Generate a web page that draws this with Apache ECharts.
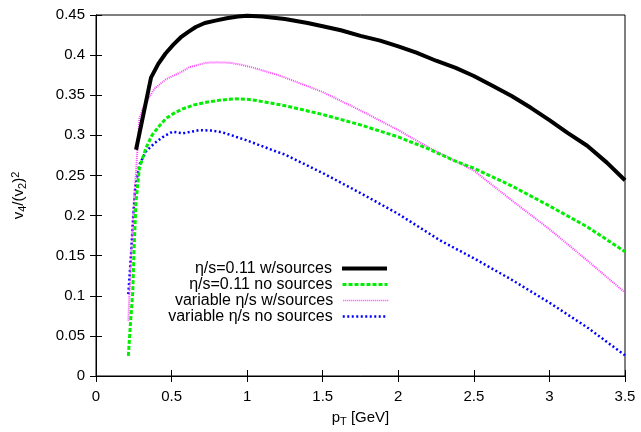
<!DOCTYPE html>
<html>
<head>
<meta charset="utf-8">
<script src="https://cdn.jsdelivr.net/npm/echarts@6/dist/echarts.min.js"></script>
<style>html,body{margin:0;padding:0;background:#fff}#c{width:641px;height:432px}</style>
</head>
<body>
<div id="c"></div>
<script>
// ---- data ----
var seriesNames = ['\u03b7/s=0.11 w/sources', '\u03b7/s=0.11 no sources', 'variable \u03b7/s w/sources', 'variable \u03b7/s no sources'];

var xBlack = [0.265,0.364,0.412,0.46,0.512,0.56,0.611,0.66,0.72,0.79,0.865,0.94,1.0,1.1,1.25,1.4,1.5,1.62,1.75,1.88,2.0,2.12,2.25,2.38,2.5,2.62,2.75,2.88,3.0,3.12,3.25,3.38,3.5];
var yBlack = [0.282,0.372,0.389,0.402,0.413,0.422,0.429,0.435,0.440,0.443,0.446,0.448,0.449,0.448,0.445,0.440,0.436,0.431,0.424,0.418,0.411,0.403,0.393,0.384,0.374,0.362,0.349,0.334,0.319,0.303,0.287,0.266,0.244];

var xGreen = [0.214,0.227,0.243,0.254,0.265,0.287,0.33,0.37,0.42,0.463,0.52,0.574,0.65,0.75,0.83,0.915,1.0,1.06,1.19,1.25,1.5,1.75,2.0,2.2,2.376,2.5,2.75,3.0,3.25,3.5];
var yGreen = [0.025,0.063,0.104,0.169,0.218,0.259,0.284,0.300,0.312,0.321,0.328,0.333,0.338,0.342,0.344,0.3455,0.345,0.3435,0.339,0.337,0.326,0.313,0.298,0.283,0.268,0.259,0.237,0.212,0.186,0.155];

var xPink = [0.214,0.232,0.254,0.265,0.287,0.309,0.35,0.386,0.463,0.52,0.574,0.617,0.728,0.8,0.882,0.96,1.037,1.19,1.25,1.5,1.75,2.0,2.2,2.376,2.5,2.75,3.0,3.25,3.5];
var yPink = [0.069,0.149,0.227,0.255,0.321,0.333,0.347,0.358,0.370,0.375,0.380,0.385,0.3905,0.391,0.3905,0.388,0.3845,0.376,0.372,0.354,0.331,0.3065,0.285,0.268,0.256,0.219,0.183,0.144,0.104];

var xBlue = [0.214,0.232,0.247,0.26,0.287,0.331,0.386,0.45,0.507,0.574,0.684,0.76,0.838,0.993,1.19,1.25,1.5,1.75,2.0,2.277,2.5,2.75,3.0,3.25,3.5];
var yBlue = [0.102,0.153,0.202,0.235,0.2635,0.280,0.290,0.299,0.3045,0.3025,0.3065,0.306,0.3037,0.294,0.280,0.276,0.253,0.228,0.202,0.169,0.1467,0.120,0.0914,0.0606,0.0258];

var xTicks = {min: 0, max: 3.5, interval: 0.5};
var yTicks = {min: 0, max: 0.45, interval: 0.05};

// ---- build ----
function pairs(xs, ys) { return xs.map(function (x, i) { return [x, ys[i]]; }); }

var FONT = 'Liberation Sans';
var styles = [
  {color: '#000000', width: 4, type: 'solid', legendWidth: 4},
  {color: '#00ee00', width: 3, type: [4, 2], legendWidth: 3},
  {color: '#ff40ff', width: 2, type: [1, 1], legendWidth: 1.5},
  {color: '#0000ff', width: 2.5, type: [2, 2.5], legendWidth: 2.5}
];
var datasets = [pairs(xBlack, yBlack), pairs(xGreen, yGreen), pairs(xPink, yPink), pairs(xBlue, yBlue)];

var series = datasets.map(function (d, i) {
  return {
    name: seriesNames[i], type: 'line', data: d, symbol: 'none', showSymbol: false,
    smooth: false, animation: false, z: 10 - i,
    lineStyle: {color: styles[i].color, width: styles[i].width, type: styles[i].type},
    itemStyle: {color: styles[i].color}
  };
});

var rowCenters = [268.5, 284.5, 300.5, 316.5];
var legends = seriesNames.map(function (n, i) {
  return {
    data: [{name: n}], right: 252, top: rowCenters[i] - 8, orient: 'horizontal', align: 'right',
    itemWidth: 45, itemHeight: 16, padding: 0, selectedMode: false,
    itemStyle: {opacity: 0},
    lineStyle: {width: styles[i].legendWidth, color: styles[i].color, type: styles[i].type, opacity: 1},
    textStyle: {fontFamily: FONT, fontSize: 16, color: '#000', padding: [0, 5, 0, 0]}
  };
});

var tickCommon = {inside: true, length: 6, lineStyle: {color: '#000', width: 1}};
var axisLine = {show: true, lineStyle: {color: '#000', width: 1}};
var labelCommon = {fontFamily: FONT, fontSize: 15, color: '#000'};

var option = {
  animation: false,
  backgroundColor: '#fff',
  grid: {left: 96, right: 16, top: 15, bottom: 51, show: true, borderColor: '#000', borderWidth: 1, containLabel: false},
  legend: legends,
  xAxis: [
    {type: 'value', min: xTicks.min, max: xTicks.max, interval: xTicks.interval, position: 'bottom',
     axisLine: axisLine, axisTick: tickCommon, splitLine: {show: false},
     axisLabel: Object.assign({margin: 13}, labelCommon),
     name: '{a|p}{b|T}{a| [GeV]}', nameLocation: 'middle', nameGap: 33,
     nameTextStyle: {rich: {a: {fontFamily: FONT, fontSize: 15, color: '#000', lineHeight: 18},
                            b: {fontFamily: FONT, fontSize: 11, color: '#000', lineHeight: 10, verticalAlign: 'bottom'}}}},
    {type: 'value', min: xTicks.min, max: xTicks.max, interval: xTicks.interval, position: 'top',
     axisLine: axisLine, axisTick: tickCommon, axisLabel: {show: false}, splitLine: {show: false}}
  ],
  yAxis: [
    {type: 'value', min: yTicks.min, max: yTicks.max, interval: yTicks.interval, position: 'left',
     axisLine: axisLine, axisTick: tickCommon, splitLine: {show: false},
     axisLabel: Object.assign({margin: 11}, labelCommon),
     name: '{a|v}{b|4}{a|/(v}{b|2}{a|)}{c|2}', nameLocation: 'middle', nameGap: 68, nameRotate: 90,
     nameTextStyle: {rich: {a: {fontFamily: FONT, fontSize: 15, color: '#000', lineHeight: 18},
                            b: {fontFamily: FONT, fontSize: 11, color: '#000', lineHeight: 10, verticalAlign: 'bottom'},
                            c: {fontFamily: FONT, fontSize: 11, color: '#000', lineHeight: 10, verticalAlign: 'top'}}}},
    {type: 'value', min: yTicks.min, max: yTicks.max, interval: yTicks.interval, position: 'right',
     axisLine: axisLine, axisTick: tickCommon, axisLabel: {show: false}, splitLine: {show: false}}
  ],
  series: series
};

var chart = echarts.init(document.getElementById('c'), null, {renderer: 'canvas'});
chart.setOption(option);
</script>
</body>
</html>
